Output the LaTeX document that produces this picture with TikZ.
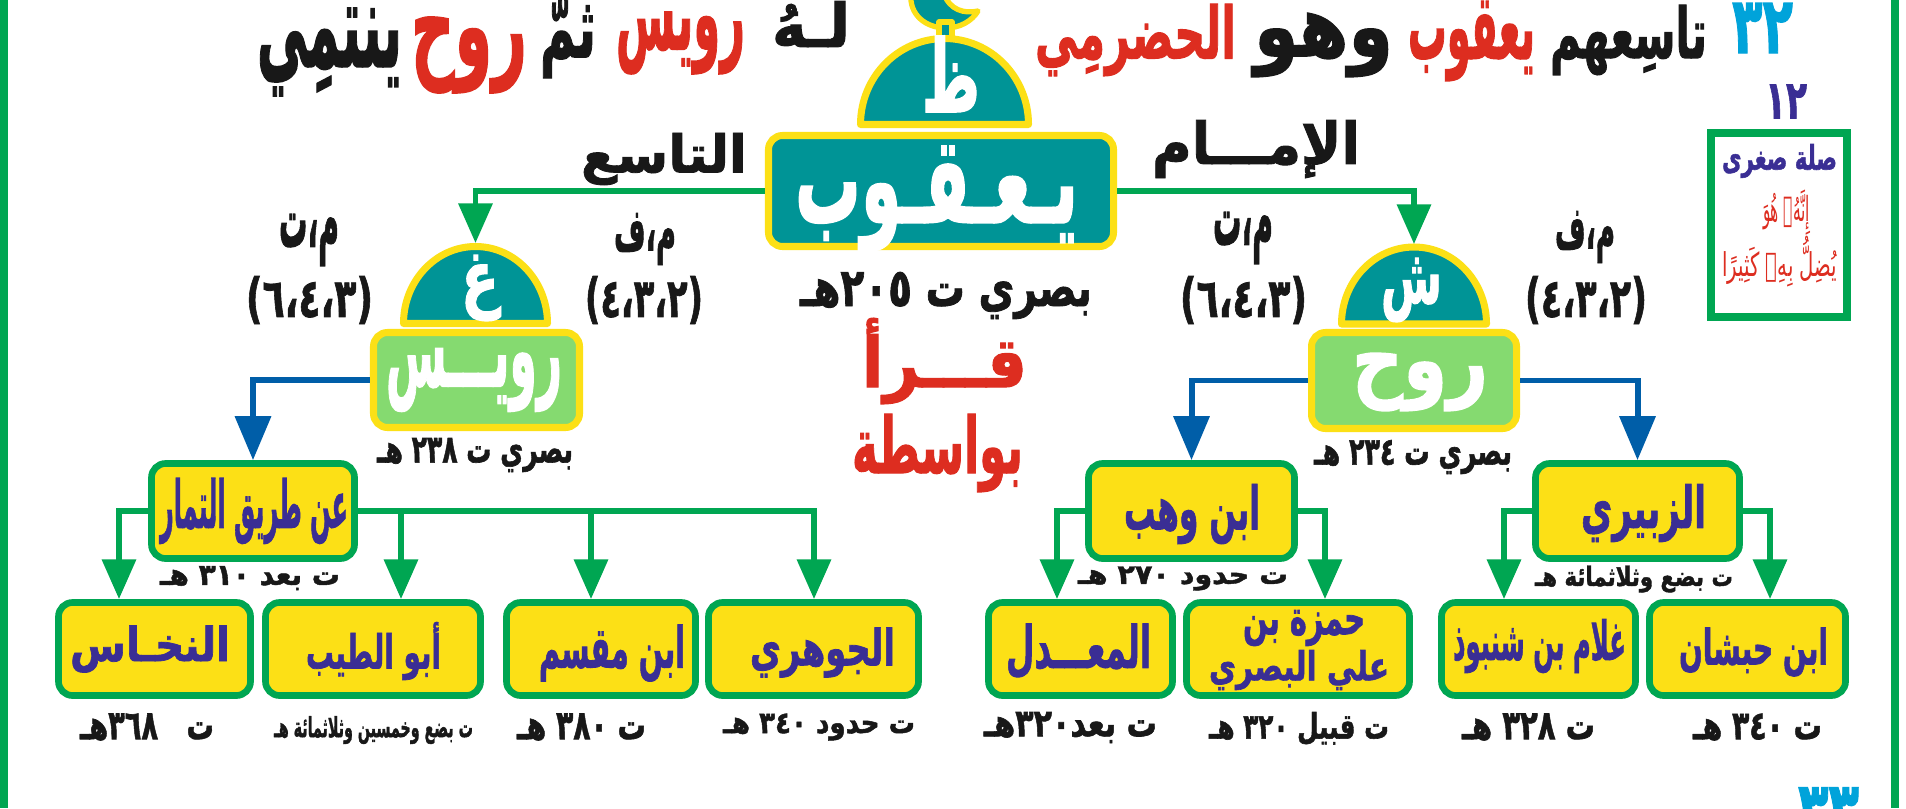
\documentclass[tikz,border=0pt]{standalone}
\usepackage{fontspec}
\usepackage{graphicx}
\usetikzlibrary{arrows.meta}
\TeXXeTstate=1
\XeTeXuseglyphmetrics=1
\newfontfamily\arabicfont[Script=Arabic, FakeBold=1.6]{DejaVu Sans Bold}
\newfontfamily\arabicreg[Script=Arabic]{DejaVu Sans}
\newdimen\px \px=0.02cm
\newcommand\AR[3]{\resizebox*{#1\px}{#2\px}{\fontsize{30pt}{30pt}\arabicfont #3}}
\newcommand\ARreg[3]{\resizebox*{#1\px}{#2\px}{\fontsize{30pt}{30pt}\arabicreg #3}}
\definecolor{tealc}{RGB}{0,148,150}
\definecolor{yel}{RGB}{252,224,22}
\definecolor{lgreen}{RGB}{133,218,112}
\definecolor{grn}{RGB}{0,166,82}
\definecolor{blu}{RGB}{0,94,168}
\definecolor{purp}{RGB}{58,46,148}
\definecolor{redc}{RGB}{221,45,32}
\definecolor{cyanc}{RGB}{0,163,218}
\definecolor{blk}{RGB}{24,24,24}
\tikzset{
  txt/.style={inner sep=0pt, outer sep=0pt},
  tealbox/.style={draw=yel, fill=tealc, line width=4pt, rounded corners=8pt, inner sep=0pt},
  lgbox/.style={draw=yel, fill=lgreen, line width=4pt, rounded corners=8pt, inner sep=0pt},
  ybox/.style={draw=grn, fill=yel, line width=3.8pt, rounded corners=8pt, inner sep=0pt},
  domestyle/.style={fill=tealc, draw=yel, line width=4pt, line join=round},
  gline/.style={draw=grn, line width=2.9pt, -{Triangle[width=19pt,length=22.5pt]}},
  bline/.style={draw=blu, line width=3.4pt, -{Triangle[width=20pt,length=25pt]}},
}
\begin{document}
\begin{tikzpicture}[x=0.02cm,y=-0.02cm]
\useasboundingbox (0,0) rectangle (1906,808);
\fill[white] (0,0) rectangle (1906,808);
\fill[grn] (0,0) rectangle (8,808);
\fill[grn] (1891,0) rectangle (1899,808);

% ---------- title ----------
\node[txt, text=cyanc] (t32) at (1762.5,28) {\AR{61}{50}{٣٢}};
\node[txt, text=blk] (tTas) at (1628.5,40) {\AR{157}{70}{\beginR تاسِعهم\endR}};
\node[txt, text=redc] (tYaq) at (1471.5,41) {\AR{127}{80}{\beginR يعقوب\endR}};
\node[txt, text=blk] (tWah) at (1323.5,45) {\AR{139}{64}{\beginR وهو\endR}};
\node[txt, text=redc] (tHad) at (1135.5,40) {\AR{201}{72}{\beginR الحضرمِي\endR}};
\node[txt, text=blk] (tLah) at (811,24) {\AR{78}{46}{\beginR لـهُ\endR}};
\node[txt, text=redc] (tRuw) at (680.5,43) {\AR{129}{62}{\beginR رويس\endR}};
\node[txt, text=blk] (tThm) at (568,38) {\AR{56}{80}{\beginR ثمّ\endR}};
\node[txt, text=redc] (tRwh) at (469,55) {\AR{116}{76}{\beginR روح\endR}};
\node[txt, text=blk] (tYnt) at (329.5,52) {\AR{145}{88}{\beginR ينتمِي\endR}};

% ---------- top dome ----------
\filldraw[domestyle, line width=3pt] (911,-6) .. controls (909,14) and (925,28) .. (946,28) .. controls (960,28) and (972,21) .. (978,11) .. controls (964,14) and (950,10) .. (944,-6) -- cycle;
\filldraw[domestyle, line width=3pt] (939,22) rectangle (952,48);
\filldraw[domestyle] (860.5,124.5) arc[start angle=180, end angle=360, x radius=84, y radius=86] -- cycle;
\node[txt, text=white] (lZa) at (951,74) {\AR{58}{76}{\beginR ظ\endR}};

% ---------- main box ----------
\node[tealbox, minimum width=345*0.02cm, minimum height=111*0.02cm] (yaqub) at (941,191) {};
\node[txt, text=white] (lYaqub) at (936.5,199) {\AR{283}{106}{\beginR يـعـقـوب\endR}};
\node[txt, text=blk] (tTasi3) at (664,159) {\AR{166}{52}{\beginR التاسع\endR}};
\node[txt, text=blk] (tImam) at (1256,149) {\AR{208}{58}{\beginR الإمـــام\endR}};
\node[txt, text=blk] (tBasri0) at (946,295.5) {\AR{292}{47}{\beginR بصري ت ٢٠٥هـ\endR}};
\node[txt, text=redc] (tQara) at (944.5,361) {\AR{165}{86}{\beginR قـــرأ\endR}};
\node[txt, text=redc] (tBiw) at (937.5,453) {\AR{171}{78}{\beginR بواسطة\endR}};

% ---------- level 2 domes and boxes ----------
\filldraw[domestyle] (403.5,323.5) arc[start angle=180, end angle=360, x radius=72, y radius=77] -- cycle;
\coordinate (ghTop) at (475.5,243);
\node[txt, text=white] (lGh) at (480,288) {\AR{38}{66}{\beginR غ\endR}};
\filldraw[domestyle] (1341.5,324) arc[start angle=180, end angle=360, x radius=72.5, y radius=77] -- cycle;
\coordinate (shTop) at (1414,244);
\node[txt, text=white] (lSh) at (1411.5,290) {\AR{61}{64}{\beginR ش\endR}};

\node[lgbox, minimum width=206*0.02cm, minimum height=95*0.02cm] (ruways) at (476.5,380) {};
\node[txt, text=white] (lRuways) at (474,380) {\AR{176}{63}{\beginR رويـــس\endR}};
\node[lgbox, minimum width=205*0.02cm, minimum height=96*0.02cm] (rawh) at (1414,380.5) {};
\node[txt, text=white] (lRawh) at (1420,382) {\AR{136}{58}{\beginR روح\endR}};

\node[txt, text=blk] (tB238) at (475,455) {\AR{196}{34}{\beginR بصري ت ٢٣٨ هـ\endR}};
\node[txt, text=blk] (tB234) at (1413,457) {\AR{198}{34}{\beginR بصري ت ٢٣٤ هـ\endR}};

\node[txt, text=blk] (lmt) at (309,240) {\AR{60}{52}{\beginR م،ت\endR}};
\node[txt, text=blk] (lp1) at (309.5,300) {\AR{127}{48}{(٦،٤،٣)}};
\node[txt, text=blk] (lmf) at (645,239) {\AR{62}{52}{\beginR م،ف\endR}};
\node[txt, text=blk] (lp2) at (644,300) {\AR{118}{48}{(٤،٣،٢)}};
\node[txt, text=blk] (rmt) at (1243,238) {\AR{60}{52}{\beginR م،ت\endR}};
\node[txt, text=blk] (rp1) at (1243.5,300) {\AR{127}{48}{(٦،٤،٣)}};
\node[txt, text=blk] (rmf) at (1585,237) {\AR{60}{52}{\beginR م،ف\endR}};
\node[txt, text=blk] (rp2) at (1586,300) {\AR{122}{48}{(٤،٣،٢)}};

% ---------- side box ----------
\node[txt, text=purp] (t12) at (1786,101.5) {\AR{42}{34}{١٢}};
\node[draw=grn, fill=white, line width=4.5pt, minimum width=136*0.02cm, minimum height=184*0.02cm, inner sep=0pt] (silah) at (1779,225) {};
\node[txt, text=purp] (sl1) at (1779.5,161) {\AR{115}{34}{\beginR صلة صغرى\endR}};
\node[txt, text=redc] (sl2) at (1786.5,212.5) {\ARreg{47}{46}{\beginR إِنَّهُۥ هُوَ\endR}};
\node[txt, text=redc] (sl3) at (1779.5,261.5) {\ARreg{115}{50}{\beginR يُضِلُّ بِهِۦ كَثِيرًا\endR}};

% ---------- level 3 boxes ----------
\node[ybox, minimum width=203*0.02cm, minimum height=95*0.02cm] (tariq) at (253,511) {};
\node[txt, text=purp] (lTariq) at (254,511) {\AR{188}{66}{\beginR عن طريق التمار\endR}};
\node[ybox, minimum width=206*0.02cm, minimum height=95*0.02cm] (wahb) at (1191.5,511) {};
\node[txt, text=purp] (lWahb) at (1192,514) {\AR{136}{60}{\beginR ابن وهب\endR}};
\node[ybox, minimum width=204*0.02cm, minimum height=95*0.02cm] (zub) at (1637.5,511) {};
\node[txt, text=purp] (lZub) at (1643.5,513) {\AR{125}{58}{\beginR الزبيري\endR}};

\node[txt, text=blk] (d310) at (250,578) {\AR{180}{24}{\beginR ت بعد ٣١٠ هـ\endR}};
\node[txt, text=blk] (d270) at (1183,578.5) {\AR{210}{24}{\beginR ت حدود ٢٧٠ هـ\endR}};
\node[txt, text=blk] (d300) at (1634,579) {\AR{198}{27}{\beginR ت بضع وثلاثمائة هـ\endR}};

% ---------- bottom boxes ----------
\node[ybox, minimum width=192*0.02cm, minimum height=93*0.02cm] (nakh) at (154.5,649) {};
\node[txt, text=purp] (lNakh) at (150,649) {\AR{160}{47}{\beginR النخـاس\endR}};
\node[ybox, minimum width=215*0.02cm, minimum height=93*0.02cm] (abut) at (373,649) {};
\node[txt, text=purp] (lAbut) at (373.5,651) {\AR{135}{58}{\beginR أبو الطيب\endR}};
\node[ybox, minimum width=189*0.02cm, minimum height=93*0.02cm] (muqs) at (601,649) {};
\node[txt, text=purp] (lMuqs) at (612,653) {\AR{146}{57}{\beginR ابن مقسم\endR}};
\node[ybox, minimum width=210*0.02cm, minimum height=93*0.02cm] (jawh) at (813.5,649) {};
\node[txt, text=purp] (lJawh) at (822.5,652.5) {\AR{145}{50}{\beginR الجوهري\endR}};
\node[ybox, minimum width=184*0.02cm, minimum height=93*0.02cm] (muad) at (1080.5,649) {};
\node[txt, text=purp] (lMuad) at (1078.5,651) {\AR{145}{55}{\beginR المعـــدل\endR}};
\node[ybox, minimum width=223*0.02cm, minimum height=93*0.02cm] (hamz) at (1298,649) {};
\node[txt, text=purp] (lHamz1) at (1304,628) {\AR{122}{36}{\beginR حمزة بن\endR}};
\node[txt, text=purp] (lHamz2) at (1299,670) {\AR{180}{40}{\beginR علي البصري\endR}};
\node[ybox, minimum width=194*0.02cm, minimum height=93*0.02cm] (ghul) at (1538.5,649) {};
\node[txt, text=purp] (lGhul) at (1539.5,646) {\AR{173}{54}{\beginR غلام بن شنبوذ\endR}};
\node[ybox, minimum width=196*0.02cm, minimum height=93*0.02cm] (habs) at (1747.5,649) {};
\node[txt, text=purp] (lHabs) at (1753.5,652) {\AR{149}{49}{\beginR ابن حبشان\endR}};

\node[txt, text=blk] (e368) at (147,727) {\AR{134}{27}{\beginR ت \ \ ٣٦٨هـ\endR}};
\node[txt, text=blk] (e350) at (373.5,730) {\AR{199}{28}{\beginR ت بضع وخمسين وثلاثمائة هـ\endR}};
\node[txt, text=blk] (e380) at (581.5,727) {\AR{129}{27}{\beginR ت ٣٨٠ هـ\endR}};
\node[txt, text=blk] (e340a) at (819,727) {\AR{192}{27}{\beginR ت حدود ٣٤٠ هـ\endR}};
\node[txt, text=blk] (e320a) at (1070.5,727.5) {\AR{173}{31}{\beginR ت بعد٣٢٠هـ\endR}};
\node[txt, text=blk] (e320b) at (1299,728.5) {\AR{180}{33}{\beginR ت قبيل ٣٢٠ هـ\endR}};
\node[txt, text=blk] (e328) at (1528.5,727) {\AR{133}{27}{\beginR ت ٣٢٨ هـ\endR}};
\node[txt, text=blk] (e340b) at (1757.5,727) {\AR{129}{27}{\beginR ت ٣٤٠ هـ\endR}};

% ---------- connectors ----------
\draw[gline] (yaqub.west) -| (ghTop);
\draw[gline] (yaqub.east) -| (shTop);
\draw[bline] (ruways.west) -| (tariq.north);
\draw[bline] (rawh.west) -| (wahb.north);
\draw[bline] (rawh.east) -| (zub.north);

\coordinate (inNakh) at (119,599);
\coordinate (inAbut) at (401,599);
\coordinate (inMuqs) at (591,599);
\coordinate (inJawh) at (814,599);
\coordinate (inMuad) at (1057,599);
\coordinate (inHamz) at (1325,599);
\coordinate (inGhul) at (1504,599);
\coordinate (inHabs) at (1770,599);
\draw[gline] (tariq.west) -| (inNakh);
\draw[gline] (tariq.east) -| (inAbut);
\draw[gline] (tariq.east) -| (inMuqs);
\draw[gline] (tariq.east) -| (inJawh);
\draw[gline] (wahb.west) -| (inMuad);
\draw[gline] (wahb.east) -| (inHamz);
\draw[gline] (zub.west) -| (inGhul);
\draw[gline] (zub.east) -| (inHabs);

% ---------- cut-off next verse number ----------
\begin{scope}
\clip (0,780) rectangle (1906,808);
\node[txt, text=cyanc] (t33) at (1828.5,812) {\AR{61}{49}{٣٣}};
\end{scope}
\end{tikzpicture}
\end{document}
